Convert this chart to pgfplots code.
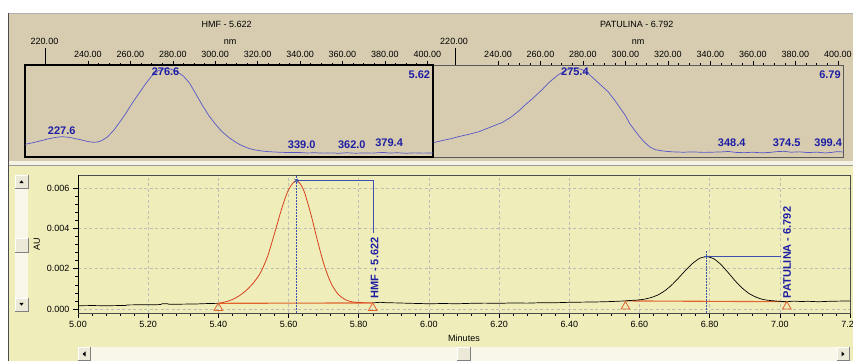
\documentclass[border=0pt]{standalone}
\usepackage{pgfplots}
\pgfplotsset{compat=1.18}
\usepackage{fontspec}
\setmainfont{Liberation Sans}

\definecolor{panelTan}{RGB}{215,204,176}
\definecolor{panelYellow}{RGB}{239,237,186}
\definecolor{stripLight}{RGB}{245,243,228}
\definecolor{trackCream}{RGB}{248,247,234}
\definecolor{btnFace}{RGB}{236,233,216}
\definecolor{specBlue}{RGB}{85,85,200}
\definecolor{labelBlue}{RGB}{30,30,165}
\definecolor{markBlue}{RGB}{60,80,175}
\definecolor{peakRed}{RGB}{215,65,30}
\definecolor{baseOrange}{RGB}{225,100,45}
\definecolor{gridGray}{RGB}{190,190,185}

\newcommand\tickfont{\fontsize{9}{10}\selectfont}
\newcommand\peakfont{\fontsize{11}{12}\selectfont\bfseries}

% a flat window button with light top/left and dark bottom/right edges
\newcommand\winbutton[4]{%
  \fill[btnFace] (#1,#2) rectangle (#3,#4);
  \draw[white, line width=0.8pt] (#1,#2) -- (#1,#4) -- (#3,#4);
  \draw[gray, line width=0.8pt] (#1,#2) -- (#3,#2) -- (#3,#4);
}

\tikzset{peaklabel/.style={font=\peakfont, text=labelBlue, inner sep=0pt}}

\pgfplotsset{
  spectrum/.style={
    anchor=south west, scale only axis, height=92pt,
    ymin=0, ymax=1, ytick=\empty,
    xtick={240,260,...,400}, minor x tick num=3,
    xtick pos=upper, xticklabel pos=upper, tick align=outside,
    major tick length=3.5pt, minor tick length=1.5pt,
    tick style={black, line width=0.5pt},
    extra x ticks={220}, extra x tick labels={},
    extra x tick style={major tick length=17pt},
    ticklabel style={font=\tickfont},
    x tick label style={/pgf/number format/fixed, /pgf/number format/fixed zerofill, /pgf/number format/precision=2},
    /pgf/number format/assume math mode=true,
  },
}

\begin{document}
\begin{tikzpicture}[x=1pt,y=1pt]
\useasboundingbox (0,0) rectangle (853,361);
\clip (0,0) rectangle (853,361);

% window panels
\fill[white] (0,0) rectangle (853,361);
\fill[panelTan] (9,200) rectangle (853,348);
\draw[gray!60] (9,348) -- (853,348);
\fill[stripLight] (9,195.5) rectangle (853,200);
\fill[panelYellow] (9,0) rectangle (853,195.5);
\draw[gray!80, line width=0.8pt] (9,195.5) -- (853,195.5);
\draw[gray!60!black, line width=1pt] (8.5,0) -- (8.5,348);

% spectrum headers
\node[font=\tickfont] at (226.7,336.7) {HMF - 5.622};
\node[font=\tickfont] at (230,319.3) {nm};
\node[font=\tickfont] at (44.5,319.3) {220.00};
\node[font=\tickfont] at (636.7,336.7) {PATULINA - 6.792};
\node[font=\tickfont] at (638,319.3) {nm};
\node[font=\tickfont] at (454,319.3) {220.00};

% vertical scroll bar
\fill[trackCream] (15,50) rectangle (28,186);
\winbutton{15}{173}{28}{186}
\fill (19.3,177.8) -- (23.7,177.8) -- (21.5,180.6) -- cycle;
\winbutton{15}{109}{28}{123}
\winbutton{15}{50}{28}{63}
\fill (19.3,58.2) -- (23.7,58.2) -- (21.5,55.4) -- cycle;

% horizontal scroll bar
\fill[trackCream] (78,0) rectangle (850,14);
\winbutton{78}{0.5}{90}{13.5}
\fill (85.5,4.5) -- (85.5,9.5) -- (82.5,7) -- cycle;
\winbutton{457}{0.5}{470}{13.5}
\winbutton{837}{0.5}{849}{13.5}
\fill (841.5,4.5) -- (841.5,9.5) -- (844.5,7) -- cycle;

% PATULINA spectrum
\begin{axis}[spectrum, at={(433pt,204pt)}, width=410pt,
  xmin=209.4, xmax=402.4,
  axis line style={gray!70!black, line width=0.8pt}]
\addplot[specBlue, line width=0.7pt, line join=round] coordinates {
 (209.4,0.155) (214,0.180) (218,0.200) (221.2,0.220) (226,0.245) (231,0.275)
 (237,0.330) (242,0.375) (246.4,0.438) (250,0.505) (252.7,0.565) (256,0.630)
 (260.6,0.728) (264,0.810) (268.2,0.891) (272,0.945) (275.4,0.965) (279,0.955)
 (282,0.920) (284.1,0.873) (288,0.790) (291.8,0.710) (295,0.615) (299.8,0.457)
 (302.1,0.359) (304.5,0.285) (306.8,0.217) (309,0.160) (311.5,0.109) (314,0.080)
 (317.6,0.065) (322,0.056) (327,0.052) (332,0.055) (337,0.050) (342,0.053)
 (345,0.055) (348.4,0.060) (352,0.050) (356,0.047) (360,0.052) (364,0.045)
 (368,0.050) (371,0.058) (374.5,0.062) (378,0.052) (382,0.056) (386,0.048)
 (390,0.053) (394,0.044) (397,0.050) (399.4,0.058) (402.4,0.055)};
\node[peaklabel] at (axis cs:276.2,0.927) {275.4};
\node[peaklabel, anchor=east] at (axis cs:401.4,0.891) {6.79};
\node[peaklabel] at (axis cs:350,0.16) {348.4};
\node[peaklabel] at (axis cs:375.9,0.16) {374.5};
\node[peaklabel, anchor=east] at (axis cs:402,0.16) {399.4};
\end{axis}

% HMF spectrum
\begin{axis}[spectrum, at={(25pt,204pt)}, width=408pt,
  xmin=210.3, xmax=402.7,
  axis line style={black, line width=1.8pt}]
\addplot[specBlue, line width=0.7pt, line join=round] coordinates {
 (210.3,0.138) (213,0.150) (217,0.172) (221,0.196) (224.5,0.212) (227.6,0.221)
 (231,0.214) (234,0.200) (237,0.185) (240,0.168) (242.5,0.160) (244.5,0.163)
 (246.5,0.178) (249,0.215) (252,0.285) (255,0.380) (258,0.480) (261,0.590)
 (264,0.690) (267,0.790) (270,0.880) (273,0.935) (276.6,0.965) (279,0.955)
 (282,0.925) (285,0.880) (288,0.800) (291,0.680) (294,0.560) (297,0.450)
 (300,0.360) (303,0.280) (306,0.220) (309,0.170) (312,0.130) (315,0.100)
 (318,0.080) (321,0.068) (325,0.058) (330,0.052) (335,0.048) (339,0.050)
 (343,0.044) (347,0.046) (351,0.042) (355,0.045) (358,0.040) (362,0.046)
 (366,0.041) (370,0.044) (374,0.042) (377,0.047) (379.4,0.050) (382,0.043)
 (386,0.046) (390,0.041) (394,0.045) (398,0.042) (402.7,0.044)};
\node[peaklabel] at (axis cs:227.6,0.283) {227.6};
\node[peaklabel] at (axis cs:276.6,0.927) {276.6};
\node[peaklabel, anchor=east] at (axis cs:401.4,0.891) {5.62};
\node[peaklabel] at (axis cs:340.8,0.138) {339.0};
\node[peaklabel] at (axis cs:364.4,0.138) {362.0};
\node[peaklabel] at (axis cs:382,0.152) {379.4};
\end{axis}

% chromatogram
\begin{axis}[at={(78pt,48pt)}, anchor=south west, scale only axis,
  width=772pt, height=138pt,
  xmin=5, xmax=7.2, ymin=-0.0002, ymax=0.00665,
  xtick={5,5.2,5.4,5.6,5.8,6,6.2,6.4,6.6,6.8,7,7.2},
  ytick={0,0.002,0.004,0.006},
  minor x tick num=4, minor y tick num=4,
  xtick pos=lower, ytick pos=left, tick align=outside,
  major tick length=5pt, minor tick length=3pt,
  tick style={black, line width=0.5pt},
  grid=major, major grid style={gridGray, line width=0.5pt, dash pattern=on 3pt off 2.5pt},
  axis line style={gray!60!black, line width=0.7pt},
  scaled y ticks=false,
  x tick label style={/pgf/number format/fixed, /pgf/number format/fixed zerofill, /pgf/number format/precision=2},
  y tick label style={/pgf/number format/fixed, /pgf/number format/fixed zerofill, /pgf/number format/precision=3},
  ticklabel style={font=\tickfont},
  /pgf/number format/assume math mode=true,
  xlabel={Minutes}, ylabel={AU}, label style={font=\tickfont},
  axis background/.style={fill=panelYellow},
]
\draw[black, line width=0.8pt] (rel axis cs:0,1) -- (rel axis cs:0,0) -- (rel axis cs:1,0);

% integration baselines and marks
\addplot[baseOrange, line width=1.1pt] coordinates {(5.40,0.00028) (5.84,0.00030)};
\addplot[baseOrange, line width=1.1pt] coordinates {(6.56,0.00040) (7.02,0.00036)};
\addplot[only marks, mark=triangle, mark size=5pt, mark options={draw=baseOrange, fill=none, line width=0.8pt}]
  coordinates {(5.40,0.00005) (5.84,0.00005) (6.56,0.00012) (7.02,0.00012)};

% detector trace
\addplot[black, line width=0.7pt] coordinates {
 (5.00,0.00016) (5.04,0.00017) (5.08,0.00016) (5.12,0.00017) (5.135,0.00017)
 (5.14,0.00020) (5.18,0.00021) (5.22,0.00021) (5.235,0.00022) (5.24,0.00026)
 (5.255,0.00026) (5.26,0.00023) (5.30,0.00024) (5.34,0.00025) (5.37,0.00027)
 (5.40,0.00028)};
\addplot[peakRed, line width=0.8pt, smooth, tension=0.5] coordinates {
 (5.40,0.00028) (5.42,0.00035) (5.44,0.00047) (5.46,0.00066) (5.48,0.00093)
 (5.50,0.00130) (5.52,0.00180) (5.54,0.00260) (5.56,0.00375) (5.58,0.00495)
 (5.60,0.00592) (5.622,0.00637) (5.642,0.00594) (5.662,0.00481) (5.682,0.00342)
 (5.702,0.00215) (5.722,0.00125) (5.742,0.00072) (5.762,0.00046) (5.782,0.00035)
 (5.802,0.00032) (5.822,0.00030) (5.84,0.00030)};
\addplot[black, line width=0.7pt, smooth, tension=0.3] coordinates {
 (5.84,0.00030) (5.86,0.00033) (5.88,0.00031) (5.91,0.00030) (5.95,0.00028)
 (6.00,0.00026) (6.04,0.00027) (6.08,0.00026) (6.12,0.00028) (6.16,0.00029)
 (6.20,0.00028) (6.24,0.00030) (6.28,0.00029) (6.32,0.00031) (6.36,0.00031)
 (6.40,0.00033) (6.44,0.00034) (6.48,0.00035) (6.52,0.00037) (6.56,0.00040)
 (6.572,0.00042) (6.592,0.00044) (6.612,0.00048) (6.632,0.00056) (6.652,0.00069)
 (6.672,0.00090) (6.692,0.00119) (6.712,0.00155) (6.732,0.00193) (6.752,0.00227)
 (6.772,0.00252) (6.792,0.00260) (6.812,0.00249) (6.832,0.00221) (6.852,0.00182)
 (6.872,0.00141) (6.892,0.00105) (6.912,0.00077) (6.932,0.00059) (6.952,0.00047)
 (6.972,0.00042) (6.992,0.00039) (7.02,0.00036) (7.04,0.00039) (7.06,0.00037)
 (7.08,0.00038) (7.11,0.00036) (7.14,0.00038) (7.17,0.00039) (7.20,0.00040)};

% peak annotations
\addplot[markBlue, line width=0.7pt, dash pattern=on 1.5pt off 1.5pt] coordinates {(5.622,-0.0002) (5.622,0.00665)};
\addplot[markBlue, line width=0.8pt] coordinates {(5.622,0.00637) (5.842,0.00637) (5.842,0.00377)};
\addplot[only marks, mark=x, mark size=2.5pt, mark options={draw=markBlue, line width=0.7pt}] coordinates {(5.622,0.00637)};
\node[peaklabel, rotate=90, anchor=west] at (axis cs:5.845,0.0005) {HMF - 5.622};

\addplot[markBlue, line width=0.7pt, dash pattern=on 1.5pt off 1.5pt] coordinates {(6.792,-0.0002) (6.792,0.0029)};
\addplot[markBlue, line width=0.8pt] coordinates {(6.792,0.0026) (7.004,0.0026)};
\addplot[only marks, mark=+, mark size=2.5pt, mark options={draw=markBlue, line width=0.7pt}] coordinates {(6.792,0.0026)};
\node[peaklabel, rotate=90, anchor=west] at (axis cs:7.021,0.00053) {PATULINA - 6.792};
\end{axis}
\end{tikzpicture}
\end{document}
